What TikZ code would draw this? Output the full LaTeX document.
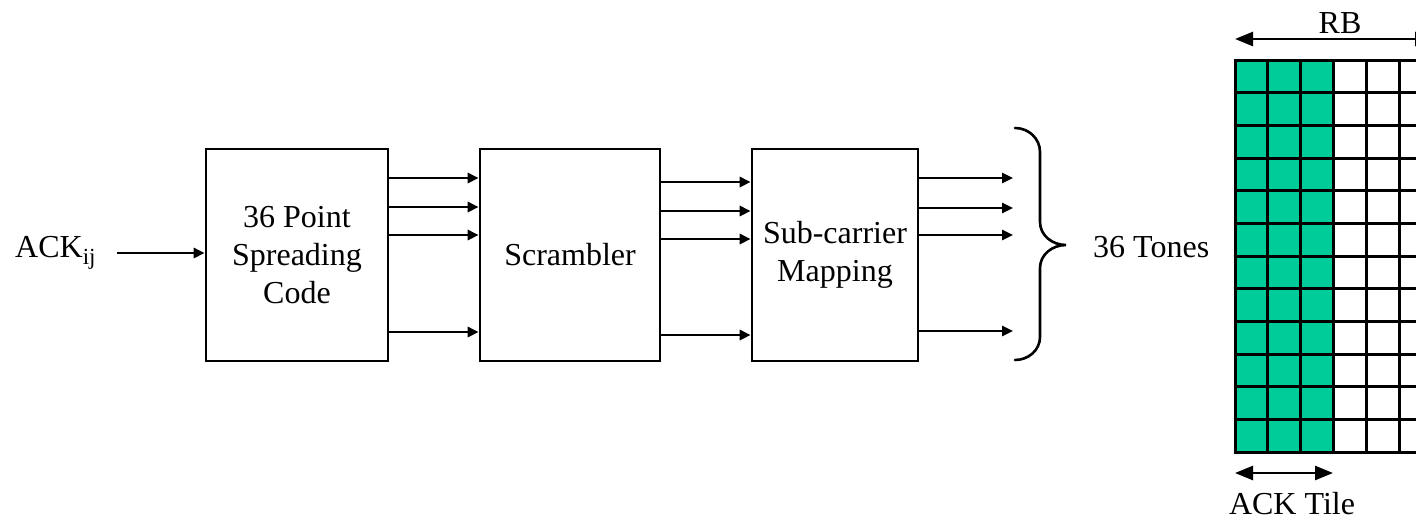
\documentclass[tikz,border=0pt]{standalone}
\usepackage{fontspec}
\setmainfont{Liberation Serif}
\usetikzlibrary{arrows.meta,calc}
\definecolor{tilegreen}{RGB}{0,204,153}
\tikzset{
  blockbox/.style={draw,line width=2.6pt,minimum width=#1,minimum height=212pt,inner sep=0pt,align=center,font=\fontsize{32}{38}\selectfont},
  arr/.style={line width=2.6pt,-{Triangle[length=11pt,width=10pt]}},
  darr/.style={line width=2.6pt,{Triangle[length=18pt,width=14pt]}-{Triangle[length=18pt,width=14pt]}},
  lbl/.style={font=\fontsize{32}{38}\selectfont,inner sep=0pt},
}
\begin{document}
\begin{tikzpicture}[x=1pt,y=-1pt]
\useasboundingbox (0,0) rectangle (1416,525);
\clip (0,0) rectangle (1416,525);
% blocks
\node[blockbox=182pt] (b1) at (297,255) {36 Point\\Spreading\\Code};
\node[blockbox=180pt] (b2) at (570,255) {Scrambler};
\node[blockbox=166pt] (b3) at (835,255) {Sub-carrier\\Mapping};
% input
\node[lbl,anchor=base west] (ack) at (15,257) {ACK\raisebox{-7pt}{\fontsize{23}{23}\selectfont ij}};
\coordinate (ackin) at (117,253);
\draw[arr] (ackin) -- (b1.west |- ackin);
% b1 -> b2
\foreach \y in {178,207,235,332}{
  \draw[arr] (b1.east |- 0,\y) -- (b2.west |- 0,\y);
}
% b2 -> b3
\foreach \y in {182,211,239,335}{
  \draw[arr] (b2.east |- 0,\y) -- (b3.west |- 0,\y);
}
% outputs
\foreach \y/\n in {178/o1,208/o2,235/o3,331/o4}{
  \coordinate (\n) at (1013,\y);
  \draw[arr] (b3.east |- 0,\y) -- (\n);
}
% brace
\draw[line width=2.6pt,line cap=round]
  (1015,128) to[out=0,in=90] (1040,152) -- (1040,222) to[out=-90,in=180] (1066,245)
  to[out=180,in=90] (1040,268) -- (1040,337) to[out=-90,in=0] (1015,360);
\node[lbl,anchor=base west] (tones) at (1093,257) {36 Tones};
% grid
\fill[tilegreen] (1235,60) rectangle (1333.4,452);
\foreach \i in {0,...,6}{
  \draw[line width=3pt] ({1235+32.8*\i},60) -- ({1235+32.8*\i},452);
}
\foreach \j in {0,...,12}{
  \draw[line width=3pt] (1233.5,{60+32.667*\j}) -- (1440,{60+32.667*\j});
}
% RB arrow
\coordinate (rbl) at (1235,39);
\coordinate (rbr) at (1433,39);
\draw[darr] (rbl) -- (rbr);
\node[lbl,anchor=base] (rb) at (1340,33) {RB};
% ACK tile arrow
\coordinate (atl) at (1235,473);
\coordinate (atr) at (1333,473);
\draw[darr] (atl) -- (atr);
\node[lbl,anchor=base] (acktile) at (1292,514) {ACK Tile};
\end{tikzpicture}
\end{document}
